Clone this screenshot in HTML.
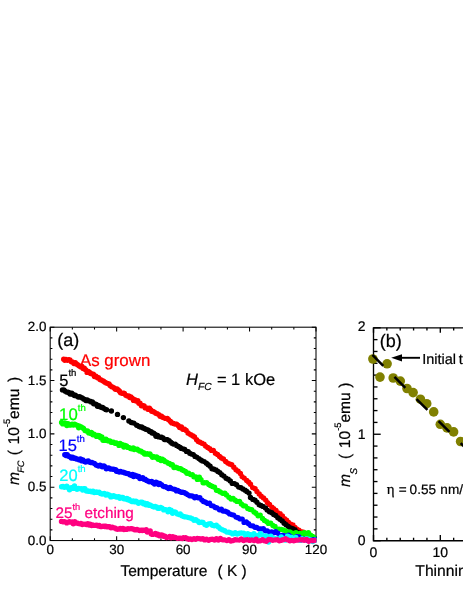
<!DOCTYPE html>
<html><head><meta charset="utf-8"><title>fig</title>
<style>html,body{margin:0;padding:0;background:#fff;}body{width:463px;height:599px;overflow:hidden;position:relative;font-family:"Liberation Sans",sans-serif;}</style></head>
<body>
<svg width="463" height="599" viewBox="0 0 463 599" style="position:absolute;left:0;top:0">
<rect width="463" height="599" fill="#fff"/>
<defs><clipPath id="ca"><rect x="45" y="320" width="271.6" height="230"/></clipPath></defs>
<g stroke="#000" stroke-width="1.05" fill="none">
<rect x="50.2" y="327.2" width="265.80" height="213.35"/>
<path d="M50.20 540.55v-4.2M50.20 327.2v4.2"/>
<path d="M72.35 540.55v-2.2M72.35 327.2v2.2"/>
<path d="M94.50 540.55v-2.2M94.50 327.2v2.2"/>
<path d="M116.65 540.55v-4.2M116.65 327.2v4.2"/>
<path d="M138.80 540.55v-2.2M138.80 327.2v2.2"/>
<path d="M160.95 540.55v-2.2M160.95 327.2v2.2"/>
<path d="M183.10 540.55v-4.2M183.10 327.2v4.2"/>
<path d="M205.25 540.55v-2.2M205.25 327.2v2.2"/>
<path d="M227.40 540.55v-2.2M227.40 327.2v2.2"/>
<path d="M249.55 540.55v-4.2M249.55 327.2v4.2"/>
<path d="M271.70 540.55v-2.2M271.70 327.2v2.2"/>
<path d="M293.85 540.55v-2.2M293.85 327.2v2.2"/>
<path d="M316.00 540.55v-4.2M316.00 327.2v4.2"/>
<path d="M50.2 540.55h4.2M316.0 540.55h-4.2"/>
<path d="M50.2 529.88h2.2M316.0 529.88h-2.2"/>
<path d="M50.2 519.21h2.2M316.0 519.21h-2.2"/>
<path d="M50.2 508.55h2.2M316.0 508.55h-2.2"/>
<path d="M50.2 497.88h2.2M316.0 497.88h-2.2"/>
<path d="M50.2 487.21h4.2M316.0 487.21h-4.2"/>
<path d="M50.2 476.54h2.2M316.0 476.54h-2.2"/>
<path d="M50.2 465.88h2.2M316.0 465.88h-2.2"/>
<path d="M50.2 455.21h2.2M316.0 455.21h-2.2"/>
<path d="M50.2 444.54h2.2M316.0 444.54h-2.2"/>
<path d="M50.2 433.88h4.2M316.0 433.88h-4.2"/>
<path d="M50.2 423.21h2.2M316.0 423.21h-2.2"/>
<path d="M50.2 412.54h2.2M316.0 412.54h-2.2"/>
<path d="M50.2 401.87h2.2M316.0 401.87h-2.2"/>
<path d="M50.2 391.20h2.2M316.0 391.20h-2.2"/>
<path d="M50.2 380.54h4.2M316.0 380.54h-4.2"/>
<path d="M50.2 369.87h2.2M316.0 369.87h-2.2"/>
<path d="M50.2 359.20h2.2M316.0 359.20h-2.2"/>
<path d="M50.2 348.53h2.2M316.0 348.53h-2.2"/>
<path d="M50.2 337.87h2.2M316.0 337.87h-2.2"/>
<path d="M50.2 327.20h4.2M316.0 327.20h-4.2"/>
</g>
<g stroke="#000" stroke-width="1.35" fill="none">
<path d="M465 327.8H373.5V540.7H465"/>
<path d="M373.5 540.70h7.2"/>
<path d="M373.5 528.87h4.0"/>
<path d="M373.5 517.04h4.0"/>
<path d="M373.5 505.22h4.0"/>
<path d="M373.5 493.39h4.0"/>
<path d="M373.5 481.56h4.0"/>
<path d="M373.5 469.73h4.0"/>
<path d="M373.5 457.91h4.0"/>
<path d="M373.5 446.08h4.0"/>
<path d="M373.5 434.25h7.2"/>
<path d="M373.5 422.42h4.0"/>
<path d="M373.5 410.59h4.0"/>
<path d="M373.5 398.77h4.0"/>
<path d="M373.5 386.94h4.0"/>
<path d="M373.5 375.11h4.0"/>
<path d="M373.5 363.28h4.0"/>
<path d="M373.5 351.46h4.0"/>
<path d="M373.5 339.63h4.0"/>
<path d="M373.5 327.80h7.2"/>
<path d="M373.50 540.7v-5.8M373.50 327.8v5.0"/>
<path d="M386.86 540.7v-3.0M386.86 327.8v2.6"/>
<path d="M400.22 540.7v-3.0M400.22 327.8v2.6"/>
<path d="M413.58 540.7v-3.0M413.58 327.8v2.6"/>
<path d="M426.94 540.7v-3.0M426.94 327.8v2.6"/>
<path d="M440.30 540.7v-5.8M440.30 327.8v5.0"/>
<path d="M453.66 540.7v-3.0M453.66 327.8v2.6"/>
</g>
<g fill="none" stroke-width="5.4" stroke-linecap="round" clip-path="url(#ca)">
<path stroke="#ff0000" d="M63.7 359.3h0M64.8 360.3h0M65.9 359.4h0M67.4 360.2h0M68.5 359.8h0M69.9 360.0h0M71.4 361.7h0M72.4 361.9h0M74.0 363.6h0M75.3 362.8h0M76.5 363.9h0M77.6 364.8h0M78.9 365.7h0M80.4 366.8h0M81.7 366.2h0M83.1 368.5h0M84.3 368.1h0M85.5 369.8h0M87.1 372.4h0M88.3 371.4h0M89.4 372.2h0M90.6 373.5h0M92.3 374.0h0M93.3 374.2h0M94.5 376.6h0M95.9 376.1h0M97.5 377.7h0M98.5 377.6h0M100.0 379.4h0M101.1 379.9h0M102.7 380.7h0M103.9 381.4h0M104.9 382.2h0M106.2 383.0h0M107.7 383.6h0M109.0 384.0h0M110.1 385.4h0M111.7 386.7h0M112.8 387.1h0M114.1 387.9h0M115.4 389.3h0M117.0 388.9h0M118.3 390.0h0M119.5 391.2h0M120.6 392.8h0M121.9 393.2h0M123.2 393.2h0M124.4 393.4h0M125.8 395.3h0M127.3 395.9h0M128.7 395.9h0M129.8 397.6h0M130.9 397.0h0M132.2 398.2h0M133.6 400.4h0M134.8 399.8h0M136.1 401.1h0M137.8 400.7h0M138.9 403.3h0M140.0 403.1h0M141.4 405.8h0M142.9 405.6h0M144.1 406.0h0M145.3 407.9h0M146.5 408.0h0M147.9 409.2h0M149.4 408.3h0M150.5 409.7h0M151.7 411.2h0M153.1 411.4h0M154.4 412.2h0M155.8 413.2h0M157.2 413.7h0M158.8 414.6h0M160.1 416.3h0M161.5 416.3h0M162.6 417.3h0M164.5 418.1h0M165.5 418.4h0M167.3 418.4h0M168.6 419.7h0M170.5 421.5h0M171.8 422.9h0M173.5 423.5h0M175.0 424.0h0M176.6 424.2h0M178.2 425.4h0M179.7 427.5h0M181.4 426.9h0M182.8 429.2h0M184.5 429.3h0M186.2 430.5h0M188.0 433.0h0M189.7 434.1h0M191.3 435.0h0M193.0 436.0h0M194.5 437.0h0M196.6 439.8h0M198.3 441.6h0M200.0 442.3h0M202.0 443.3h0M204.0 444.1h0M205.6 446.1h0M207.7 447.5h0M209.7 448.8h0M211.5 450.4h0M213.3 450.4h0M215.4 453.3h0M217.5 454.5h0M219.6 456.5h0M221.4 458.0h0M223.4 458.9h0M225.7 461.4h0M227.8 463.1h0M229.6 464.0h0M231.7 464.7h0M233.8 467.3h0M236.0 469.8h0M238.1 471.3h0M240.4 473.5h0M242.1 476.6h0M244.2 478.1h0M246.7 480.4h0M248.7 482.3h0M250.5 484.2h0M252.7 487.6h0M255.1 488.8h0M256.9 491.4h0M259.2 493.9h0M261.2 496.3h0M263.5 497.9h0M265.7 500.1h0M267.5 502.7h0M269.5 504.4h0M271.9 507.3h0M273.7 508.6h0M276.0 510.4h0M278.1 513.0h0M280.1 513.8h0M282.4 515.9h0M284.6 518.8h0M286.6 520.2h0M288.6 522.4h0M290.9 524.1h0M292.9 524.9h0M295.0 527.5h0M297.0 529.2h0M298.9 530.1h0M301.2 531.7h0M303.4 532.1h0M305.6 534.3h0M307.7 536.1h0M309.5 535.0h0M311.9 536.5h0M313.5 537.7h0"/>
<path stroke="#000000" d="M62.5 389.9h0M63.8 390.0h0M64.9 391.0h0M66.5 391.9h0M67.5 392.2h0M68.8 392.5h0M70.1 394.1h0M71.8 393.2h0M73.0 394.4h0M74.4 395.5h0M75.3 395.3h0M76.7 396.1h0M78.2 397.1h0M79.6 396.8h0M80.7 397.2h0M82.2 398.0h0M83.5 399.1h0M84.8 399.5h0M85.9 400.6h0M87.2 400.0h0M88.5 400.7h0M90.0 401.3h0M91.1 401.9h0M92.4 402.0h0M93.7 403.7h0M95.0 403.9h0M96.3 404.4h0M97.5 406.2h0M98.9 405.6h0M100.4 406.9h0M101.7 407.5h0M102.6 407.5h0M104.2 408.6h0M105.5 409.4h0M106.5 409.7h0M128.9 421.0h0M131.3 422.5h0M133.8 423.1h0M136.7 425.3h0M139.1 426.5h0M140.3 427.1h0M141.7 426.9h0M143.1 428.0h0M144.3 428.4h0M145.8 429.3h0M147.2 429.6h0M148.4 430.2h0M149.7 431.5h0M151.1 431.7h0M152.1 433.0h0M153.7 433.1h0M155.1 434.4h0M156.0 436.3h0M157.5 435.5h0M158.8 436.9h0M160.5 437.2h0M161.6 437.3h0M163.0 437.9h0M164.5 439.6h0M166.3 439.6h0M167.4 439.8h0M169.1 440.8h0M170.7 442.3h0M171.9 443.2h0M173.4 444.1h0M175.2 444.2h0M176.6 445.4h0M178.5 446.5h0M180.2 447.5h0M181.3 448.4h0M183.4 449.1h0M184.7 449.5h0M186.5 451.4h0M188.2 451.8h0M189.7 453.3h0M191.5 454.1h0M193.3 454.6h0M195.0 456.4h0M196.7 457.1h0M198.9 458.6h0M200.7 459.9h0M202.4 460.9h0M204.2 461.6h0M206.4 463.3h0M208.2 464.7h0M210.1 466.3h0M212.0 468.7h0M214.0 469.2h0M216.0 470.0h0M217.9 471.5h0M219.8 472.6h0M221.8 474.7h0M223.9 476.1h0M226.1 478.2h0M228.2 479.3h0M230.3 481.0h0M232.3 483.4h0M234.5 483.6h0M236.5 484.7h0M238.7 487.1h0M240.9 487.7h0M242.9 489.0h0M245.1 490.2h0M246.8 491.4h0M249.0 493.1h0M250.5 497.5h0M252.9 499.4h0M255.0 500.3h0M256.9 502.3h0M259.2 504.7h0M260.9 505.5h0M263.0 506.4h0M265.5 508.0h0M267.2 510.1h0M269.5 511.8h0M271.8 512.8h0M273.7 514.4h0M275.7 515.5h0M277.8 517.8h0M279.9 519.3h0M282.2 521.0h0M284.1 523.2h0M286.1 524.8h0M288.3 526.5h0M290.7 528.0h0M292.8 528.7h0M294.9 529.8h0M296.8 531.9h0M298.9 532.7h0M301.0 533.7h0M303.3 534.2h0M305.4 534.9h0M307.5 535.2h0M309.5 536.2h0M311.5 537.0h0M313.6 537.8h0M315.5 538.5h0M111.4 411h0M117.5 414.4h0M123.4 417.6h0"/>
<path stroke="#00ff00" d="M61.6 422.4h0M62.8 423.9h0M64.3 423.0h0M65.5 423.3h0M66.9 425.5h0M68.0 423.8h0M69.5 425.1h0M70.8 425.1h0M72.1 424.1h0M73.3 425.1h0M74.7 424.1h0M75.7 424.7h0M77.4 425.5h0M78.7 427.7h0M79.7 426.2h0M81.1 427.0h0M82.4 427.6h0M83.5 428.5h0M85.0 430.5h0M86.4 431.1h0M87.5 430.9h0M88.8 432.9h0M90.0 433.2h0M91.3 432.5h0M92.9 434.8h0M94.0 434.1h0M95.6 435.1h0M96.6 436.4h0M97.9 435.5h0M99.3 435.6h0M100.6 437.8h0M101.8 436.9h0M103.0 440.2h0M104.3 440.4h0M105.9 439.3h0M107.0 440.2h0M108.3 440.9h0M109.8 441.0h0M111.1 442.2h0M112.4 442.3h0M113.5 442.3h0M115.0 443.2h0M116.3 443.0h0M117.5 443.8h0M119.0 445.4h0M120.1 443.5h0M121.3 445.0h0M122.6 444.6h0M123.9 447.0h0M125.2 445.5h0M126.5 446.0h0M127.8 447.4h0M129.3 447.7h0M130.5 448.6h0M131.6 448.7h0M133.2 447.9h0M134.2 449.5h0M135.7 449.1h0M137.2 449.1h0M138.4 450.3h0M139.6 451.1h0M141.0 451.3h0M142.3 452.3h0M143.7 452.7h0M144.6 454.0h0M146.2 454.1h0M147.3 453.8h0M148.8 454.2h0M149.9 454.0h0M151.2 455.6h0M152.6 457.3h0M154.0 456.7h0M155.5 457.3h0M156.6 457.0h0M158.2 459.2h0M159.5 458.4h0M161.0 460.6h0M162.3 459.3h0M163.8 460.1h0M165.0 461.6h0M166.7 462.1h0M168.3 463.3h0M169.4 463.4h0M171.0 464.7h0M172.3 464.6h0M174.0 467.5h0M175.8 467.2h0M177.1 467.8h0M178.9 468.5h0M180.6 468.8h0M181.9 469.8h0M183.5 470.4h0M185.4 471.4h0M186.9 473.3h0M188.6 473.3h0M190.6 474.6h0M192.3 474.7h0M193.9 476.8h0M195.9 476.9h0M197.4 479.4h0M199.3 477.3h0M201.0 479.6h0M203.1 482.8h0M204.7 482.8h0M206.6 482.6h0M208.8 484.5h0M210.3 485.5h0M212.5 486.5h0M214.5 487.3h0M216.5 490.2h0M218.3 490.7h0M220.3 491.9h0M222.6 493.3h0M224.8 493.2h0M226.5 494.9h0M228.9 497.2h0M231.1 499.0h0M233.1 498.5h0M235.2 500.3h0M237.0 501.4h0M239.5 501.5h0M241.4 504.0h0M243.6 505.7h0M245.5 506.1h0M247.8 508.4h0M249.6 509.3h0M251.7 509.8h0M254.1 512.0h0M255.9 513.3h0M258.1 515.7h0M260.2 515.2h0M262.5 518.4h0M264.5 520.4h0M266.8 521.8h0M268.4 523.4h0M270.7 523.1h0M272.9 525.5h0M275.0 526.4h0M277.2 530.7h0M279.0 529.1h0M281.2 529.4h0M283.4 530.0h0M285.4 530.7h0M287.7 532.3h0M289.8 531.9h0M291.7 532.9h0M294.0 533.8h0M295.9 532.7h0M297.9 533.6h0M300.0 533.4h0M302.1 533.4h0M304.3 532.7h0M306.3 534.5h0M308.4 532.8h0M310.6 535.2h0M312.6 536.4h0M314.9 538.0h0"/>
<path stroke="#0000ff" d="M64.8 454.8h0M65.9 455.6h0M67.2 454.8h0M68.6 456.2h0M70.0 456.7h0M71.3 458.1h0M72.6 457.3h0M73.7 458.3h0M75.2 458.2h0M76.4 459.0h0M77.8 459.3h0M78.8 459.7h0M80.4 459.0h0M81.5 460.7h0M82.9 460.0h0M84.4 461.5h0M85.5 462.0h0M86.6 461.4h0M88.3 460.9h0M89.2 462.1h0M90.6 462.5h0M91.9 462.4h0M93.5 463.1h0M94.4 463.5h0M96.1 464.9h0M97.2 465.6h0M98.5 466.1h0M100.0 465.1h0M101.3 465.8h0M102.2 466.7h0M103.9 466.0h0M104.9 466.8h0M106.3 468.7h0M107.6 468.1h0M108.7 467.9h0M110.4 469.0h0M111.7 469.1h0M112.9 469.2h0M114.2 469.4h0M115.6 469.6h0M116.5 471.2h0M117.8 471.2h0M119.2 472.0h0M120.6 471.5h0M121.8 472.1h0M123.3 472.1h0M124.3 472.8h0M126.0 473.3h0M127.2 473.6h0M128.5 473.7h0M129.8 474.8h0M131.0 475.2h0M132.5 474.5h0M133.6 476.6h0M134.9 475.3h0M136.2 475.6h0M137.5 476.6h0M138.7 476.4h0M139.9 478.5h0M141.5 478.2h0M142.7 477.6h0M144.0 479.2h0M145.1 479.1h0M146.6 480.5h0M147.8 480.9h0M149.2 481.8h0M150.4 481.6h0M151.7 481.5h0M152.9 482.8h0M154.5 484.0h0M156.0 482.3h0M157.0 482.7h0M158.7 484.6h0M159.7 483.4h0M161.5 484.6h0M163.0 486.1h0M163.9 486.6h0M165.6 486.6h0M166.9 487.6h0M168.5 488.5h0M170.0 487.5h0M171.4 488.5h0M173.3 489.1h0M174.9 489.5h0M176.5 490.9h0M177.7 490.4h0M179.6 491.5h0M181.2 492.3h0M182.6 492.3h0M184.5 492.8h0M186.2 493.8h0M187.5 494.6h0M189.6 495.8h0M191.2 495.9h0M192.7 496.3h0M194.7 497.8h0M196.2 496.8h0M198.1 497.7h0M199.8 497.7h0M201.9 500.1h0M203.5 501.5h0M205.6 502.2h0M207.6 503.4h0M209.5 503.3h0M211.3 505.6h0M213.4 506.1h0M215.3 507.5h0M217.0 507.9h0M219.5 509.7h0M221.3 509.1h0M223.1 511.0h0M225.3 511.2h0M227.6 512.2h0M229.7 513.9h0M231.6 514.6h0M233.6 515.1h0M236.1 517.1h0M238.0 517.8h0M240.2 518.9h0M242.2 519.1h0M244.1 522.4h0M246.3 522.0h0M248.6 523.8h0M250.6 525.6h0M252.9 526.0h0M255.0 527.3h0M256.7 527.5h0M259.0 528.8h0M261.0 528.9h0M263.3 528.7h0M265.4 530.8h0M267.3 530.9h0M269.5 532.4h0M271.6 531.9h0M273.8 532.7h0M275.6 531.7h0M277.7 533.1h0M280.0 535.8h0M282.1 535.4h0M284.0 535.7h0M286.5 538.2h0M288.5 535.3h0M290.4 536.4h0M292.4 537.9h0M294.6 538.4h0M296.7 536.7h0M298.9 536.9h0M300.8 540.1h0M303.0 539.5h0M305.4 539.6h0M307.4 540.3h0M309.3 540.1h0M311.3 539.7h0M313.6 539.7h0M315.8 539.5h0"/>
<path stroke="#00ffff" d="M61.6 486.7h0M63.0 486.4h0M64.4 487.2h0M65.3 486.9h0M66.8 486.3h0M67.9 487.4h0M69.5 489.8h0M70.8 487.9h0M72.0 487.5h0M73.2 488.2h0M74.5 485.9h0M75.8 488.4h0M77.0 489.3h0M78.5 488.4h0M79.7 488.6h0M81.2 488.8h0M82.6 490.0h0M83.7 488.8h0M84.9 488.7h0M86.4 491.1h0M87.4 490.6h0M88.9 491.4h0M90.1 491.2h0M91.5 491.7h0M93.0 491.2h0M94.2 492.6h0M95.3 492.4h0M96.5 491.9h0M97.9 492.4h0M99.1 492.2h0M100.5 493.5h0M102.1 494.0h0M103.1 493.6h0M104.3 493.4h0M105.9 495.0h0M107.2 494.3h0M108.3 495.0h0M109.6 495.1h0M110.9 496.9h0M112.4 496.5h0M113.5 495.7h0M114.8 496.2h0M116.2 497.0h0M117.3 496.9h0M118.8 496.8h0M119.9 498.2h0M121.5 497.5h0M122.8 497.4h0M123.9 498.7h0M125.4 499.1h0M126.8 498.4h0M127.8 499.8h0M129.1 499.5h0M130.3 500.7h0M131.8 501.5h0M133.3 500.9h0M134.5 501.7h0M135.9 501.2h0M137.1 501.9h0M138.5 503.2h0M139.7 502.7h0M140.7 502.2h0M142.0 502.3h0M143.4 503.7h0M144.7 503.2h0M145.9 504.8h0M147.2 503.6h0M148.8 505.2h0M149.9 505.0h0M151.3 505.7h0M152.7 506.4h0M154.0 507.0h0M155.2 506.5h0M156.6 506.9h0M157.8 508.2h0M159.4 508.2h0M160.7 507.5h0M162.1 508.3h0M163.8 509.9h0M165.1 509.8h0M166.4 510.0h0M168.0 511.8h0M169.4 509.5h0M171.1 510.2h0M172.6 513.3h0M174.2 512.0h0M175.5 512.2h0M177.4 513.9h0M179.0 514.5h0M180.2 513.9h0M181.9 515.8h0M183.6 516.5h0M185.2 516.9h0M186.9 517.1h0M188.5 517.6h0M190.5 518.0h0M192.2 518.8h0M194.0 520.3h0M195.7 519.6h0M197.6 521.0h0M199.2 522.6h0M201.3 522.3h0M203.0 522.4h0M204.9 524.5h0M206.5 525.3h0M208.7 523.9h0M210.5 523.7h0M212.4 525.3h0M214.3 525.7h0M216.3 525.2h0M218.4 527.0h0M220.3 528.8h0M222.3 529.7h0M224.7 530.7h0M226.8 532.1h0M228.8 532.3h0M231.1 533.0h0M232.8 533.9h0M235.2 532.7h0M237.1 534.1h0M239.4 533.2h0M241.3 533.0h0M243.7 533.2h0M245.7 535.9h0M247.8 533.6h0M249.8 534.5h0M251.7 536.4h0M253.9 533.7h0M255.9 535.5h0M257.9 535.4h0M260.5 533.7h0M262.2 535.1h0M264.5 536.6h0M266.5 536.0h0M268.5 542.1h0M270.9 536.1h0M272.8 538.5h0M275.1 538.6h0M277.0 539.3h0M278.9 538.6h0M281.2 537.0h0M283.3 538.4h0M285.4 540.0h0M287.5 536.2h0M289.9 537.3h0M291.7 537.5h0M294.0 538.7h0M295.8 537.5h0M298.3 539.8h0M300.1 540.2h0M302.2 538.7h0M304.1 539.6h0M306.5 538.8h0M308.5 539.3h0M310.6 540.0h0M312.7 541.6h0M315.1 540.3h0"/>
<path stroke="#ff0080" d="M61.5 521.4h0M62.9 521.7h0M64.4 521.8h0M65.5 522.1h0M66.8 522.9h0M67.9 522.3h0M69.4 521.8h0M70.6 522.1h0M72.2 522.0h0M73.3 523.8h0M74.8 521.7h0M75.7 523.0h0M77.0 522.9h0M78.4 523.6h0M79.9 523.7h0M80.9 523.5h0M82.3 524.5h0M83.7 524.1h0M85.2 524.2h0M86.2 524.6h0M87.8 523.8h0M89.1 525.1h0M90.0 524.1h0M91.6 525.5h0M92.7 525.0h0M94.1 525.4h0M95.3 525.4h0M96.8 525.3h0M98.2 526.1h0M99.2 525.5h0M100.5 526.6h0M101.7 526.6h0M103.1 526.1h0M104.6 526.5h0M105.8 526.3h0M106.9 526.7h0M108.2 526.7h0M109.5 526.8h0M111.0 527.7h0M112.3 527.1h0M113.8 527.8h0M114.8 528.0h0M116.3 528.9h0M117.5 529.2h0M119.0 529.1h0M120.2 528.4h0M121.2 529.0h0M122.9 528.5h0M123.9 529.5h0M125.5 529.1h0M126.4 529.4h0M128.0 528.8h0M129.1 528.9h0M130.7 528.6h0M131.9 528.8h0M132.9 529.0h0M134.6 529.7h0M135.8 529.7h0M137.0 529.5h0M138.4 529.9h0M139.6 530.5h0M141.0 530.3h0M142.2 530.5h0M143.7 530.1h0M144.6 530.4h0M146.2 529.7h0M147.3 532.0h0M148.7 531.9h0M150.2 531.0h0M151.3 534.0h0M152.5 534.4h0M154.2 534.1h0M155.4 533.5h0M156.9 534.7h0M157.8 534.3h0M159.3 535.8h0M161.0 535.0h0M162.4 535.3h0M163.5 536.3h0M164.9 536.3h0M166.6 537.5h0M167.9 537.1h0M169.7 536.5h0M171.1 537.8h0M172.8 536.7h0M174.0 537.6h0M175.4 537.4h0M177.4 538.3h0M179.0 538.1h0M180.4 538.3h0M182.2 538.5h0M183.5 537.6h0M185.6 537.8h0M187.2 538.8h0M188.8 539.3h0M190.4 539.0h0M191.9 539.5h0M194.0 538.6h0M195.6 539.3h0M197.3 538.4h0M199.1 538.6h0M200.9 539.0h0M202.8 538.7h0M204.7 539.9h0M206.5 539.1h0M208.7 540.2h0M210.5 539.4h0M212.3 539.3h0M214.5 540.0h0M216.4 538.8h0M218.4 540.1h0M220.4 538.5h0M222.6 539.7h0M224.5 539.9h0M226.9 540.6h0M228.9 539.7h0M230.9 541.0h0M233.1 540.5h0M235.1 539.8h0M237.1 539.9h0M239.2 540.1h0M241.3 538.9h0M243.6 540.5h0M245.5 539.9h0M247.5 539.8h0M249.7 540.4h0M251.8 539.9h0M254.0 540.6h0M256.1 539.3h0M258.0 541.1h0M260.2 540.8h0M262.5 539.6h0M264.4 540.8h0M266.3 541.2h0M268.7 539.5h0M270.8 539.8h0M272.8 540.3h0M275.2 539.9h0M277.3 539.6h0M279.3 540.7h0M281.4 540.2h0M283.2 539.7h0M285.5 538.6h0M287.4 539.7h0M289.9 540.7h0M291.6 540.4h0M293.8 540.7h0M295.8 540.3h0M298.2 540.1h0M300.1 539.7h0M302.4 539.7h0M304.2 540.2h0M306.5 539.4h0M308.8 541.3h0M310.9 540.4h0M312.8 540.8h0M314.9 540.4h0"/>
</g>
<g fill="#808000">
<circle cx="372.9" cy="359" r="4.8"/>
<circle cx="380.0" cy="377.1" r="4.8"/>
<circle cx="387.1" cy="363.8" r="4.8"/>
<circle cx="393.2" cy="378" r="4.8"/>
<circle cx="400.3" cy="381.1" r="4.8"/>
<circle cx="407.0" cy="388.5" r="4.8"/>
<circle cx="413.1" cy="392.6" r="4.8"/>
<circle cx="420.4" cy="399.2" r="4.8"/>
<circle cx="426.7" cy="403.7" r="4.8"/>
<circle cx="433.7" cy="411.9" r="4.8"/>
<circle cx="440.3" cy="424.3" r="4.8"/>
<circle cx="447" cy="427.9" r="4.8"/>
<circle cx="453.6" cy="431.9" r="4.8"/>
<circle cx="460.6" cy="441.5" r="4.8"/>
</g>
<path d="M372.4 354.9L470 452.5" stroke="#000" stroke-width="2.5" stroke-dasharray="15.4 15.8" fill="none"/>
<path d="M420 357.8H400" stroke="#000" stroke-width="1.9" fill="none"/>
<path d="M391.2 357.8L402 354.2V361.4Z" fill="#000"/>
<g style="will-change:opacity" stroke-width="0.22" stroke-linejoin="round" text-rendering="geometricPrecision" font-family="'Liberation Sans', sans-serif">
<text x="50.2" y="554.3" font-size="13.4" text-anchor="middle" fill="#000" stroke="#000" >0</text>
<text x="116.65" y="554.3" font-size="13.4" text-anchor="middle" fill="#000" stroke="#000" >30</text>
<text x="183.10000000000002" y="554.3" font-size="13.4" text-anchor="middle" fill="#000" stroke="#000" >60</text>
<text x="249.55" y="554.3" font-size="13.4" text-anchor="middle" fill="#000" stroke="#000" >90</text>
<text x="316.0" y="554.3" font-size="13.4" text-anchor="middle" fill="#000" stroke="#000" >120</text>
<text x="46.4" y="544.65" font-size="13.4" text-anchor="end" fill="#000" stroke="#000" >0.0</text>
<text x="46.4" y="491.3125" font-size="13.4" text-anchor="end" fill="#000" stroke="#000" >0.5</text>
<text x="46.4" y="437.975" font-size="13.4" text-anchor="end" fill="#000" stroke="#000" >1.0</text>
<text x="46.4" y="384.6375" font-size="13.4" text-anchor="end" fill="#000" stroke="#000" >1.5</text>
<text x="46.4" y="331.3" font-size="13.4" text-anchor="end" fill="#000" stroke="#000" >2.0</text>
<text x="373.3" y="557.3" font-size="14" text-anchor="middle" fill="#000" stroke="#000" >0</text>
<text x="440.3" y="557.3" font-size="14" text-anchor="middle" fill="#000" stroke="#000" >10</text>
<text x="365.6" y="545.3" font-size="14" text-anchor="end" fill="#000" stroke="#000" >0</text>
<text x="365.6" y="439.0" font-size="14" text-anchor="end" fill="#000" stroke="#000" >1</text>
<text x="365.6" y="331.4" font-size="14" text-anchor="end" fill="#000" stroke="#000" >2</text>
<text x="120.4" y="575.8" font-size="15.5" text-anchor="start" fill="#000" stroke="#000" >Temperature</text>
<text x="217.5" y="575.8" font-size="15.5" text-anchor="start" fill="#000" stroke="#000" >( K )</text>
<text x="415.3" y="576.0" font-size="15.7" text-anchor="start" fill="#000" stroke="#000" >Thinning</text>
<text x="57.3" y="345.8" font-size="18" text-anchor="start" fill="#000" stroke="#000" >(a)</text>
<text x="379.8" y="346.5" font-size="18" text-anchor="start" fill="#000" stroke="#000" >(b)</text>
<text x="79.9" y="366.4" font-size="16.9" text-anchor="start" fill="#ff0000" stroke="#ff0000" >As grown</text>
<text x="59.2" y="385.7" font-size="16.5" text-anchor="start" fill="#000" stroke="#000" >5<tspan dy="-9.3" font-size="9.6">th</tspan></text>
<text x="59.1" y="419.8" font-size="16.8" text-anchor="start" fill="#00ff00" stroke="#00ff00" >10<tspan dy="-9.2" font-size="9.6">th</tspan></text>
<text x="58.5" y="450.5" font-size="16.5" text-anchor="start" fill="#0000ff" stroke="#0000ff" >15<tspan dy="-8.8" font-size="9.6">th</tspan></text>
<text x="59.3" y="481" font-size="16.5" text-anchor="start" fill="#00ffff" stroke="#00ffff" >20<tspan dy="-8.7" font-size="9.6">th</tspan></text>
<text x="55.5" y="518.1" font-size="15.3" text-anchor="start" fill="#ff0080" stroke="#ff0080" >25<tspan dy="-8" font-size="9.3">th</tspan><tspan dy="8"> etching</tspan></text>
<text x="186" y="384.5" font-size="16.5" text-anchor="start" fill="#000" stroke="#000" ><tspan font-style="italic">H</tspan><tspan dy="5.6" font-size="10.2" font-style="italic">FC</tspan><tspan dy="-5.6" dx="0.8"> = 1 kOe</tspan></text>
<text x="422.2" y="363.7" font-size="14.5" text-anchor="start" fill="#000" stroke="#000" >Initial<tspan dx="-1.3"> thickness</tspan></text>
<text x="386.8" y="494.4" font-size="15" text-anchor="start" fill="#000" stroke="#000" font-family="'Liberation Serif', serif">η</text>
<text x="398.8" y="494.4" font-size="13.6" text-anchor="start" fill="#000" stroke="#000" >=<tspan dx="-0.9"> 0.55</tspan><tspan dx="0.5"> nm/etching</tspan></text>
<text transform="translate(18.8,485) rotate(-90)" font-size="15.6" stroke="#000"><tspan font-style="italic">m</tspan><tspan dy="5" dx="-0.8" font-size="9.3" font-style="italic">FC</tspan><tspan dy="-5" dx="0.8"> (</tspan><tspan dx="1.2"> 10</tspan><tspan dy="-9" font-size="9.3">-5</tspan><tspan dy="9">emu</tspan><tspan dx="2.2"> )</tspan></text>
<text transform="translate(350.4,487) rotate(-90)" font-size="15.6" stroke="#000"><tspan font-style="italic">m</tspan><tspan dy="6.4" dx="-0.4" font-size="9.8" font-style="italic">S</tspan><tspan dy="-6.4" dx="4.6"> (</tspan><tspan dx="1.2"> 10</tspan><tspan dy="-9" font-size="9.3">-5</tspan><tspan dy="9">emu</tspan><tspan dx="0.2"> )</tspan></text>
</g>
</svg>
</body></html>
